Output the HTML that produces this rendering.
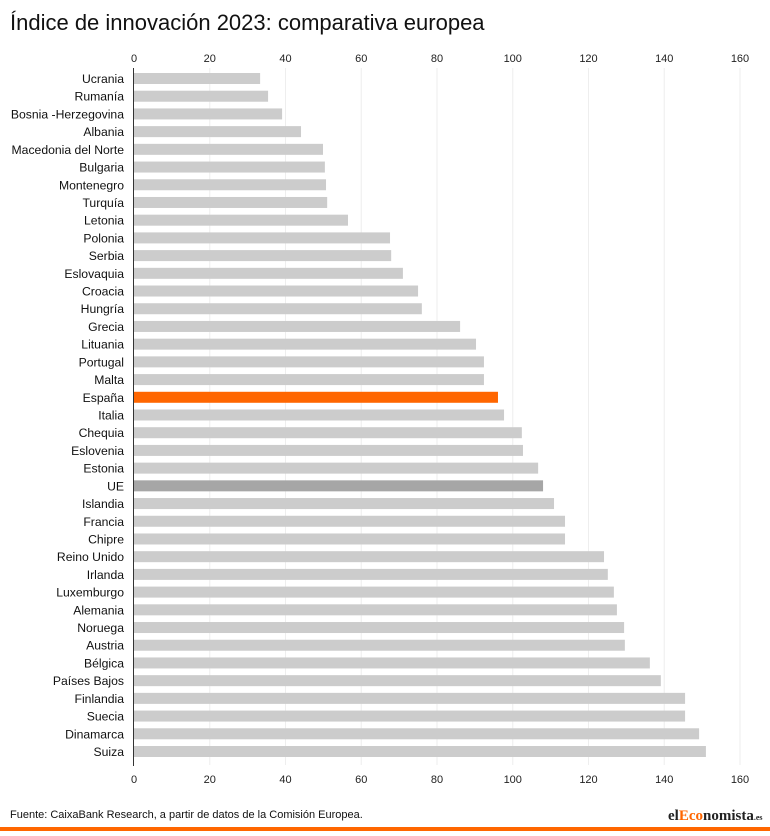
<!DOCTYPE html>
<html><head><meta charset="utf-8"><style>
body{margin:0;background:#fff;width:770px;height:831px;overflow:hidden;font-family:"Liberation Sans",sans-serif}
</style></head><body>
<svg width="770" height="831" id="c">
<text x="10" y="30" font-size="22" fill="#111">Índice de innovación 2023: comparativa europea</text>
<text x="10" y="818" font-size="11" fill="#111">Fuente: CaixaBank Research, a partir de datos de la Comisión Europea.</text>
<text x="668" y="820" font-size="15" font-family="Liberation Serif,serif" font-weight="bold" fill="#222">el<tspan fill="#f60">Eco</tspan>nomista<tspan font-size="8">.es</tspan></text>
<rect x="0" y="827" width="770" height="4" fill="#f60"/>
</svg>
<script>
const categories=["Ucrania","Rumanía","Bosnia -Herzegovina","Albania","Macedonia del Norte","Bulgaria","Montenegro","Turquía","Letonia","Polonia","Serbia","Eslovaquia","Croacia","Hungría","Grecia","Lituania","Portugal","Malta","España","Italia","Chequia","Eslovenia","Estonia","UE","Islandia","Francia","Chipre","Reino Unido","Irlanda","Luxemburgo","Alemania","Noruega","Austria","Bélgica","Países Bajos","Finlandia","Suecia","Dinamarca","Suiza"];
const values=[33.3,35.4,39.1,44.1,49.9,50.4,50.7,51.0,56.5,67.6,67.9,71.0,75.0,76.0,86.1,90.3,92.4,92.4,96.1,97.7,102.4,102.7,106.7,108.0,110.9,113.8,113.8,124.1,125.1,126.7,127.5,129.4,129.6,136.2,139.1,145.5,145.5,149.2,151.0];
const ticks=[0,20,40,60,80,100,120,140,160];
const svg=document.getElementById('c'),NS="http://www.w3.org/2000/svg";
const x=v=>134+v*606/160;
const y=i=>78.5+i*(673/38);
function mk(t,a){const e=document.createElementNS(NS,t);for(const k in a)e.setAttribute(k,a[k]);svg.appendChild(e);return e;}
ticks.forEach(t=>{
 if(t>0){const g=mk('line',{x1:x(t),x2:x(t),y1:68,y2:765,stroke:'#eee','stroke-width':1});
 
 }
 [62,783].forEach((yy,j)=>{const l=mk('text',{x:x(t),y:yy,'font-size':11,fill:'#222','text-anchor':'middle'});l.textContent=t;
 
 });
});
categories.forEach((c,i)=>{
 const col=c==="España"?"#ff6600":c==="UE"?"#a6a6a6":"#cccccc";
 const b=mk('rect',{x:134,y:y(i)-5.5,width:x(values[i])-134,height:11,fill:col});
 
 
 const l=mk('text',{x:124,y:y(i)+4.5,'font-size':12.2,fill:'#111','text-anchor':'end'});l.textContent=c;
 
 
});
const ax=mk('line',{x1:133.5,x2:133.5,y1:68,y2:766,stroke:'#333','stroke-width':1});


</script>
</body></html>
